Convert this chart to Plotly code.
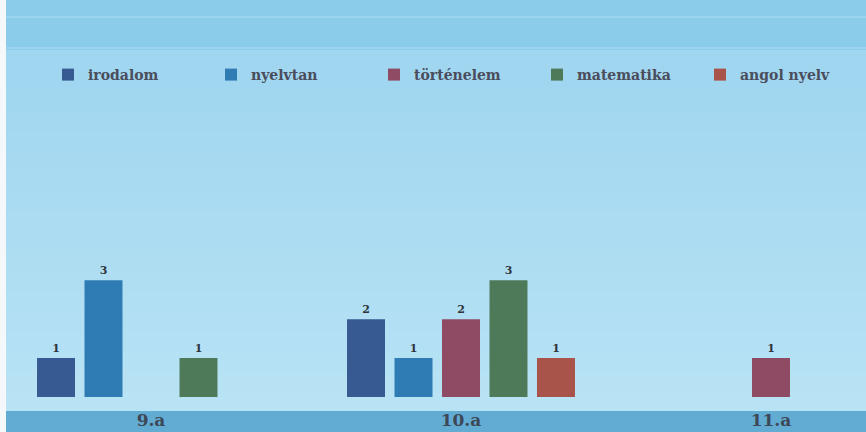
import plotly.graph_objects as go

categories = ["9.a", "10.a", "11.a"]
series_names = ["irodalom", "nyelvtan", "történelem", "matematika", "angol nyelv"]
irodalom = [1, 2, None]
nyelvtan = [3, 1, None]
tortenelem = [None, 2, 1]
matematika = [1, 3, None]
angol_nyelv = [None, 1, None]
series_values = [irodalom, nyelvtan, tortenelem, matematika, angol_nyelv]
colors = ["#365a91", "#2f7cb5", "#8f4b63", "#4e7a5a", "#a9544a"]

W, H = 866, 432
B = 35
PH = H - B  # plot height px

SERIF = "DejaVu Serif"

fig = go.Figure()
for name, vals, col in zip(series_names, series_values, colors):
    fig.add_trace(go.Bar(
        name=name, x=categories, y=vals, marker_color=col, marker_line_width=0,
        text=[str(v) if v is not None else "" for v in vals],
        textposition="outside", cliponaxis=False,
        textfont=dict(family=SERIF, size=11, color="#2f343c", weight="bold"),
    ))

def py(p):
    return (PH - p) / PH

shapes = []
shapes.append(dict(type="rect", xref="paper", yref="paper", x0=0, x1=1,
                   y0=py(H), y1=py(0), fillcolor="#a6d9f1", line_width=0, layer="below"))
shapes.append(dict(type="rect", xref="paper", yref="paper", x0=0, x1=1,
                   y0=py(50), y1=py(0), fillcolor="#8bcceb", line_width=0, layer="below"))
top, bot = 50, 411
n = 18
c0 = (160, 214, 240)
c1 = (184, 227, 245)
for i in range(n):
    a = top + (bot - top) * i / n
    t = i / (n - 1)
    c = tuple(int(c0[k] + (c1[k] - c0[k]) * t) for k in range(3))
    shapes.append(dict(type="rect", xref="paper", yref="paper", x0=0, x1=1,
                       y0=py(bot), y1=py(a), fillcolor="rgb(%d,%d,%d)" % c,
                       line_width=0, layer="below"))
shapes.append(dict(type="rect", xref="paper", yref="paper", x0=0, x1=1,
                   y0=py(H), y1=py(411), fillcolor="#62abd3", line_width=0, layer="below"))
for yy in (17, 48):
    shapes.append(dict(type="line", xref="paper", yref="paper", x0=0, x1=1,
                       y0=py(yy), y1=py(yy), line=dict(color="rgba(255,255,255,0.3)", width=1),
                       layer="below"))
shapes.append(dict(type="rect", xref="paper", yref="paper", x0=0, x1=6 / W,
                   y0=py(H), y1=py(0), fillcolor="#f4f8fa", line_width=0, layer="below"))

fig.update_layout(
    width=W, height=H,
    margin=dict(l=0, r=0, t=0, b=B, autoexpand=False),
    paper_bgcolor="#ffffff",
    plot_bgcolor="rgba(0,0,0,0)",
    barmode="group",
    bargap=0.234,
    bargroupgap=0.2,
    shapes=shapes,
    showlegend=True,
    legend=dict(
        orientation="h", x=(82 - 34) / W, xanchor="left", y=py(75), yanchor="middle",
        bgcolor="rgba(0,0,0,0)", entrywidth=118, itemwidth=30,
        font=dict(family=SERIF, size=14, color="#4a4d5c", weight="bold"),
        traceorder="normal",
    ),
    xaxis=dict(
        range=[-151 / 310, (866 - 151) / 310], showgrid=False, zeroline=False,
        showline=False, ticks="", ticklabelstandoff=11,
        tickfont=dict(family=SERIF, size=17, color="#3d4856", weight="bold"),
    ),
    yaxis=dict(range=[0, PH / 38.9], visible=False, showgrid=False, zeroline=False),
)

fig.write_html("out.html", config={"displayModeBar": False},
               post_script="document.body.style.margin='0';document.body.style.padding='0';")
